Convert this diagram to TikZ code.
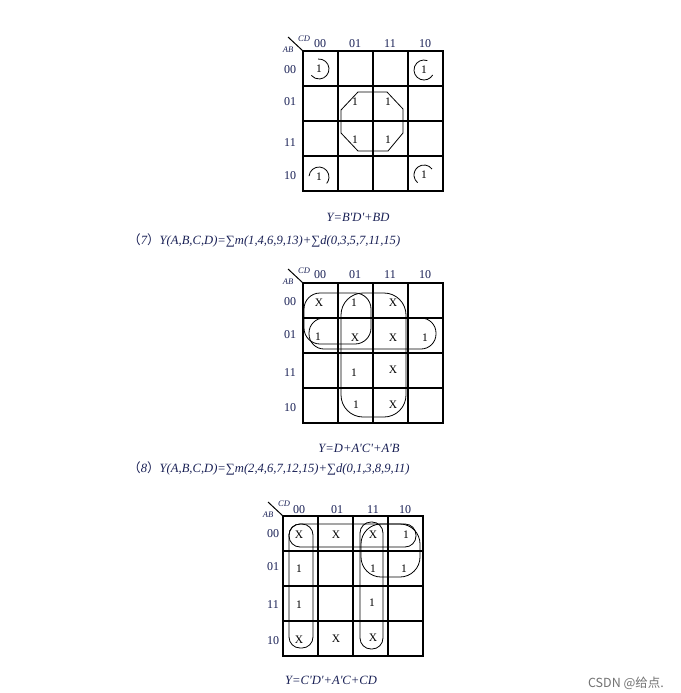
\documentclass[tikz,border=0pt]{standalone}
\usepackage{fontspec}
\setmainfont{Liberation Serif}
\newfontfamily\cjk{Noto Sans CJK SC}
\definecolor{ink}{RGB}{25,32,85}
\newcommand\prm{\textquotesingle}
\newcommand\kframe[1]{%
  \foreach \i in {0,...,4}{%
    \draw[gridline] (35*\i,0) -- (35*\i,140);
    \draw[gridline] (0,35*\i) -- (140,35*\i);
  }
  \coordinate (#1o) at (0,0);
  \coordinate (#1d) at (-15,-14);
  \draw[diag] (#1d) -- (#1o);
  \node[corner] (#1cd) at (1,-12) {CD};
  \node[corner] (#1ab) at (-15,-1) {AB};
}
\tikzset{
  gridline/.style={line width=1.4pt, line cap=rect},
  diag/.style={line width=1pt},
  loopline/.style={line width=0.8pt},
  lab/.style={font=\fontsize{12}{14}\selectfont, text=ink, inner sep=0},
  ent/.style={font=\fontsize{11.5}{13}\selectfont, inner sep=0},
  corner/.style={font=\fontsize{8.5}{10}\itshape\selectfont, text=ink, inner sep=0},
  captext/.style={font=\fontsize{12.6}{14}\itshape\selectfont, text=ink, inner sep=0},
}
\begin{document}
\begin{tikzpicture}[x=1pt,y=-1pt]
\fill[white] (0,0) rectangle (680,693);
\useasboundingbox (0,0) rectangle (680,693);

% ---------- Map 1 ----------
\begin{scope}[shift={(303,51)}]
  \kframe{a}
  \foreach \t [count=\k from 0] in {00,01,11,10}{
    \node[lab] (ac\k) at (17+35*\k,-7) {\t};
  }
  \node[lab] (ar0) at (-13,19) {00};
  \node[lab] (ar1) at (-13,51) {01};
  \node[lab] (ar2) at (-13,92) {11};
  \node[lab] (ar3) at (-13,125) {10};
  \node[ent] (a1) at (16,18) {1};
  \node[ent] (a2) at (121,19) {1};
  \node[ent] (a3) at (52,51) {1};
  \node[ent] (a4) at (85,51) {1};
  \node[ent] (a5) at (52,89) {1};
  \node[ent] (a6) at (85,89) {1};
  \node[ent] (a7) at (16,126) {1};
  \node[ent] (a8) at (121,124) {1};
  \draw[loopline] (a1.center) ++(-95:10) arc[start angle=-95, end angle=140, radius=10];
  \draw[loopline] (a2.center) ++(-70:10) arc[start angle=-70, end angle=-330, radius=10];
  \draw[loopline] (a7.center) ++(185:10) arc[start angle=185, end angle=400, radius=10];
  \draw[loopline] (a8.center) ++(-37:10) arc[start angle=-37, end angle=-230, radius=10];
  \draw[loopline] (55,41) -- (84,41) -- (100,58) -- (100,82) -- (85,100) -- (55,100) -- (38,82) -- (38,59) -- cycle;
\end{scope}

\node[captext] (y1) at (358,217) {Y=B\prm D\prm+BD};
\node[captext, anchor=west] (q7) at (128,240) {{\cjk （}7{\cjk ）}Y(A,B,C,D)=∑m(1,4,6,9,13)+∑d(0,3,5,7,11,15)};

% ---------- Map 2 ----------
\begin{scope}[shift={(303,283)}]
  \kframe{b}
  \foreach \t [count=\k from 0] in {00,01,11,10}{
    \node[lab] (bc\k) at (17+35*\k,-8) {\t};
  }
  \node[lab] (br0) at (-13,19) {00};
  \node[lab] (br1) at (-13,52) {01};
  \node[lab] (br2) at (-13,90) {11};
  \node[lab] (br3) at (-13,125) {10};
  \node[ent] (b1) at (16,20) {X};
  \node[ent] (b2) at (51,20) {1};
  \node[ent] (b3) at (90,20) {X};
  \node[ent] (b4) at (15,54) {1};
  \node[ent] (b5) at (52,55) {X};
  \node[ent] (b6) at (90,55) {X};
  \node[ent] (b7) at (122,55) {1};
  \node[ent] (b8) at (51,90) {1};
  \node[ent] (b9) at (90,87) {X};
  \node[ent] (b10) at (53,122) {1};
  \node[ent] (b11) at (90,122) {X};
  \draw[loopline, rounded corners=16] (1,10) rectangle (68,61);
  \draw[loopline, rounded corners=15] (6,35) rectangle (133,66);
  \draw[loopline, rounded corners=22] (38,10) rectangle (103,134);
\end{scope}

\node[captext] (y2) at (359,448) {Y=D+A\prm C\prm+A\prm B};
\node[captext, anchor=west] (q8) at (128,468) {{\cjk （}8{\cjk ）}Y(A,B,C,D)=∑m(2,4,6,7,12,15)+∑d(0,1,3,8,9,11)};

% ---------- Map 3 ----------
\begin{scope}[shift={(283,516)}]
  \kframe{c}
  \node[lab] (cc0) at (16,-6) {00};
  \node[lab] (cc1) at (54,-6) {01};
  \node[lab] (cc2) at (90,-6) {11};
  \node[lab] (cc3) at (122,-6) {10};
  \node[lab] (cr0) at (-10,18) {00};
  \node[lab] (cr1) at (-10,51) {01};
  \node[lab] (cr2) at (-10,89) {11};
  \node[lab] (cr3) at (-10,125) {10};
  \node[ent] (c1) at (16,19) {X};
  \node[ent] (c2) at (53,19) {X};
  \node[ent] (c3) at (90,19) {X};
  \node[ent] (c4) at (123,19) {1};
  \node[ent] (c5) at (16,53) {1};
  \node[ent] (c6) at (90,53) {1};
  \node[ent] (c7) at (121,53) {1};
  \node[ent] (c8) at (16,89) {1};
  \node[ent] (c9) at (89,87) {1};
  \node[ent] (c10) at (16,124) {X};
  \node[ent] (c11) at (53,123) {X};
  \node[ent] (c12) at (90,122) {X};
  \draw[loopline, rounded corners=11] (6,8) rectangle (133,31);
  \draw[loopline, rounded corners=11] (6,8) rectangle (30,132);
  \draw[loopline, rounded corners=11] (77,6) rectangle (100,133);
  \draw[loopline, rounded corners=20] (78,8) rectangle (137,61);
\end{scope}

\node[captext] (y3) at (331,680) {Y=C\prm D\prm+A\prm C+CD};
\node[font=\fontsize{12.5}{14}\selectfont\cjk, text=black!55, inner sep=0] (wm) at (626,683) {CSDN @给点.};
\end{tikzpicture}
\end{document}
